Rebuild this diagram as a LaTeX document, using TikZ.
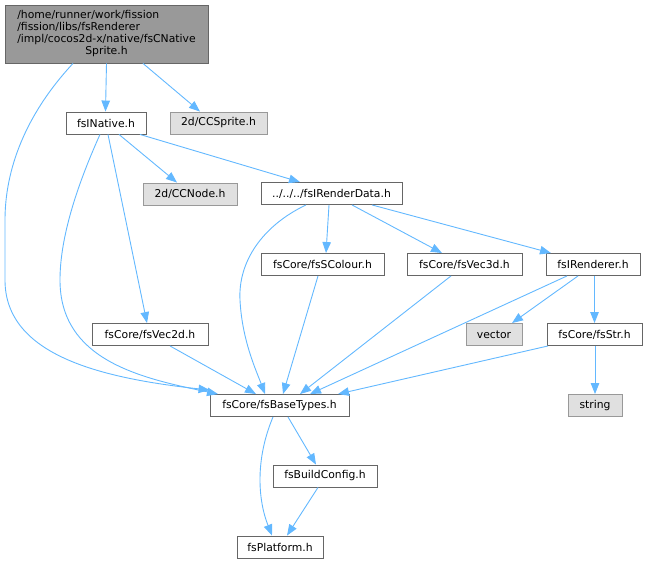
\documentclass[tikz,border=0pt]{standalone}
\usepackage{fontspec}
\setmainfont{DejaVu Sans}
\usetikzlibrary{arrows.meta}
\definecolor{edgec}{HTML}{63B8FF}
\definecolor{bordc}{HTML}{666666}
\definecolor{grayfill}{HTML}{E0E0E0}
\definecolor{grayb}{HTML}{999999}
\definecolor{topfill}{HTML}{999999}
\tikzset{
  hbox/.style={draw=bordc, fill=white, line width=0.9pt, minimum height=22pt, inner sep=0pt,
    font=\fontsize{10.8}{12.3}\selectfont},
  sbox/.style={hbox, draw=grayb, fill=grayfill},
  dep/.style={draw=edgec, line width=0.9pt, -{Triangle[length=11pt,width=8.5pt]}},
}
\begin{document}
\begin{tikzpicture}[x=1pt,y=-1pt]
\useasboundingbox (0,0) rectangle (647,564);
\node[hbox, fill=topfill, minimum width=203pt, minimum height=58pt] (top) at (106.5,34)
  {\begin{tabular}{@{}l@{}}/home/runner/work/fission\\/fission/libs/fsRenderer\\/impl/cocos2d-x/native/fsCNative\\\multicolumn{1}{@{}c@{}}{Sprite.h}\end{tabular}};
\node[hbox, minimum width=80pt] (nat) at (106,123) {fsINative.h};
\node[sbox, minimum width=97pt] (spr) at (218.5,123) {2d/CCSprite.h};
\node[sbox, minimum width=94pt] (ccn) at (190,194) {2d/CCNode.h};
\node[hbox, minimum width=141pt] (rd) at (331.5,193.5) {../../../fsIRenderData.h};
\node[hbox, minimum width=123pt] (col) at (322.5,264.5) {fsCore/fsSColour.h};
\node[hbox, minimum width=115pt] (v3) at (464.5,264.5) {fsCore/fsVec3d.h};
\node[hbox, minimum width=94pt] (ren) at (593,264.5) {fsIRenderer.h};
\node[sbox, minimum width=56pt] (vec) at (494,334.5) {vector};
\node[hbox, minimum width=95pt] (str) at (594.5,334.5) {fsCore/fsStr.h};
\node[sbox, minimum width=54pt] (strg) at (595,405.5) {string};
\node[hbox, minimum width=116pt] (v2) at (150,334.5) {fsCore/fsVec2d.h};
\node[hbox, minimum width=139pt] (bt) at (279.5,405.5) {fsCore/fsBaseTypes.h};
\node[hbox, minimum width=104pt] (bc) at (325,476) {fsBuildConfig.h};
\node[hbox, minimum width=86pt] (pl) at (280,547) {fsPlatform.h};

\draw[dep] (top.south) -- ([xshift=-0.5pt]nat.north);
\draw[dep] ([xshift=36.5pt]top.south) -- ([xshift=-18.5pt]spr.north);
\draw[dep] ([xshift=-33.5pt]top.south) .. controls (25,115) and (5,170) .. (5,220)
  -- (5,280) .. controls (5,355) and (100,378) .. ([yshift=4pt]bt.north west);
\draw[dep] ([xshift=-6pt]nat.south) .. controls (75,190) and (60,240) .. (60,280)
  .. controls (60,360) and (140,378) .. ([xshift=-61.5pt]bt.north);
\draw[dep] ([xshift=2pt]nat.south) -- ([xshift=-3pt]v2.north);
\draw[dep] ([xshift=13pt]nat.south) -- ([xshift=-13pt]ccn.north);
\draw[dep] ([xshift=34pt]nat.south) -- ([xshift=-31.5pt]rd.north);
\draw[dep] ([xshift=-25.5pt]rd.south) .. controls (262,226) and (238,262) .. (240,300)
  .. controls (242,340) and (256,370) .. ([xshift=-14.5pt]bt.north);
\draw[dep] ([xshift=-2.5pt]rd.south) -- ([xshift=3.5pt]col.north);
\draw[dep] ([xshift=20.5pt]rd.south) -- ([xshift=-22.5pt]v3.north);
\draw[dep] ([xshift=40.5pt]rd.south) -- ([xshift=-42pt]ren.north);
\draw[dep] ([xshift=-4.5pt]col.south) -- ([xshift=3.5pt]bt.north);
\draw[dep] ([xshift=-13.5pt]v3.south) -- ([xshift=20.5pt]bt.north);
\draw[dep] ([xshift=-26pt]ren.south) -- ([xshift=30.5pt]bt.north);
\draw[dep] ([xshift=-15pt]ren.south) -- ([xshift=18pt]vec.north);
\draw[dep] ([xshift=1.5pt]ren.south) -- (str.north);
\draw[dep] ([xshift=-46.5pt]str.south) -- ([xshift=58.5pt]bt.north);
\draw[dep] ([xshift=0.5pt]str.south) -- (strg.north);
\draw[dep] ([xshift=20pt]v2.south) -- ([xshift=-23.5pt]bt.north);
\draw[dep] ([xshift=8.5pt]bt.south) -- ([xshift=-9pt]bc.north);
\draw[dep] ([xshift=-6.5pt]bt.south) .. controls (255,460) and (258,500) .. ([xshift=-8pt]pl.north);
\draw[dep] ([xshift=-7pt]bc.south) -- ([xshift=7pt]pl.north);
\end{tikzpicture}
\end{document}
